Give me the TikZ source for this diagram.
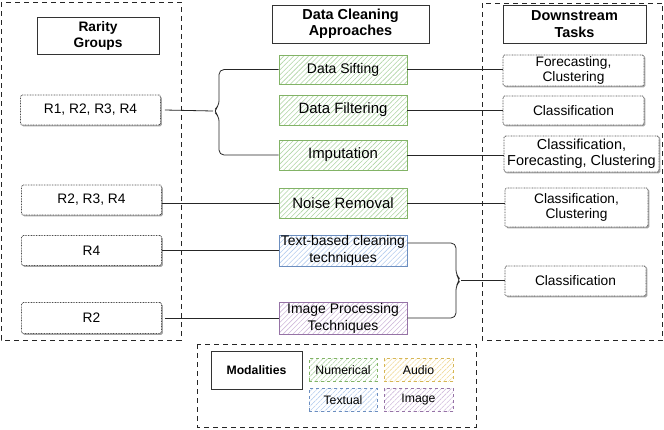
\documentclass[tikz,border=0pt]{standalone}
\usepackage{fontspec}
\setmainfont{Liberation Sans}
\usetikzlibrary{patterns.meta,shadows}
\definecolor{gbord}{HTML}{82B366}\definecolor{ghatch}{HTML}{AFD5A4}
\definecolor{bbord}{HTML}{6C8EBF}\definecolor{bhatch}{HTML}{B5CDEE}
\definecolor{pbord}{HTML}{9673A6}\definecolor{phatch}{HTML}{CFBADB}
\definecolor{ybord}{HTML}{D6B656}\definecolor{yhatch}{HTML}{F0DA9A}
\tikzset{
  container/.style={draw=black!85, dash pattern=on 5bp off 4bp, line width=0.8bp},
  titlebox/.style={draw=black!80, line width=0.9bp, font=\bfseries\fontsize{14.5}{16.5}\selectfont, align=center, inner sep=0pt},
  rbox/.style={draw=black!70, dash pattern=on 0.8bp off 0.8bp, line width=0.8bp, rounded corners=1.5bp, fill=white,
    drop shadow={shadow xshift=1.3bp, shadow yshift=-1.3bp, fill=black!35, opacity=1},
    font=\fontsize{13.8}{15.5}\selectfont, align=center, inner sep=0pt},
  hatch/.style 2 args={draw=#1, pattern={Lines[angle=45,distance=3.5bp,line width=0.6bp]}, pattern color=#2,
    line width=0.9bp, align=center, inner sep=0pt},
  appr/.style={hatch={gbord}{ghatch}, font=\fontsize{15}{17}\selectfont},
  modal/.style 2 args={hatch={#1}{#2}, dashed, font=\fontsize{12.3}{14}\selectfont},
  conn/.style={draw=black!85, line width=0.8bp},
  brace/.style={conn, rounded corners=5bp},
}
\begin{document}
\begin{tikzpicture}[x=1bp,y=-1bp]
\useasboundingbox (0,0) rectangle (664,429);
% containers
\draw[container] (1,2) rectangle (181,340);
\draw[container] (482,3) rectangle (662.5,340);
\draw[container] (197,344) rectangle (476,427);
% left column
\node[titlebox, font=\bfseries\fontsize{13.8}{16}\selectfont, minimum width=122bp, minimum height=37bp] (rg) at (98,35.5) {Rarity\\Groups};
\node[rbox, minimum width=140bp, minimum height=30bp] (r1) at (90.5,110) {R1, R2, R3, R4};
\node[rbox, minimum width=140bp, minimum height=30bp] (r234) at (91.5,200) {R2, R3, R4};
\node[rbox, minimum width=140bp, minimum height=30bp] (r4) at (91.5,250.5) {R4};
\node[rbox, minimum width=140bp, minimum height=31bp] (r2) at (91.5,318) {R2};
% middle column
\node[titlebox, minimum width=157bp, minimum height=38bp] (dca) at (350.5,24) {Data Cleaning\\Approaches};
\node[appr, font=\fontsize{14}{16}\selectfont, minimum width=128bp, minimum height=29bp] (ds) at (343,69.5) {Data Sifting};
\node[appr, minimum width=128bp, minimum height=30bp] (df) at (343,110) {Data Filtering};
\node[appr, minimum width=128bp, minimum height=30bp] (imp) at (343,155) {Imputation};
\node[appr, minimum width=128bp, minimum height=30bp] (nr) at (343,203) {Noise Removal};
\node[hatch={bbord}{bhatch}, font=\fontsize{14}{17}\selectfont, minimum width=128bp, minimum height=31bp] (tb) at (343,250.5) {Text-based cleaning\\techniques};
\node[hatch={pbord}{phatch}, font=\fontsize{14}{17}\selectfont, minimum width=128bp, minimum height=32bp] (ip) at (343,318) {Image Processing\\Techniques};
% right column
\node[titlebox, minimum width=143bp, minimum height=38bp] (dt) at (574.5,24) {Downstream\\Tasks};
\node[rbox, minimum width=141bp, minimum height=31bp] (fc) at (573.5,70.5) {Forecasting,\\Clustering};
\node[rbox, minimum width=141bp, minimum height=29bp] (c1) at (573.5,110.5) {Classification};
\node[rbox, font=\fontsize{14.5}{16.5}\selectfont, minimum width=155bp, minimum height=36bp] (cfc) at (581.5,154) {Classification,\\Forecasting, Clustering};
\node[rbox, minimum width=143bp, minimum height=39bp] (cc) at (576.5,207.5) {Classification,\\Clustering};
\node[rbox, minimum width=141bp, minimum height=30bp] (c2) at (575.5,281) {Classification};
% modalities
\node[titlebox, font=\bfseries\fontsize{12.3}{14}\selectfont, minimum width=91bp, minimum height=38bp] (mod) at (256.5,370) {Modalities};
\node[modal={gbord}{ghatch}, minimum width=68bp, minimum height=23.5bp] (num) at (343,370) {Numerical};
\node[modal={ybord}{yhatch}, minimum width=69bp, minimum height=23.5bp] (aud) at (418.5,370) {Audio};
\node[modal={bbord}{bhatch}, minimum width=68bp, minimum height=23.5bp] (tex) at (343,400) {Textual};
\node[modal={pbord}{phatch}, minimum width=69bp, minimum height=23.5bp] (img) at (418.5,400) {Image};
% connectors
\coordinate (b1) at (213,111);
\coordinate (b2) at (461,280);
\draw[conn] ([xshift=4bp]r1.east) -- (b1);
\draw[brace] (ds.west) -- (219,69.5) -- (219,106) -- (b1) -- (219,116) -- (219,155) -- (imp.west);
\draw[conn] (ds.east) -- (ds.east -| fc.west);
\draw[conn] (df.east) -- (df.east -| c1.west);
\draw[conn] (imp.east) -- (imp.east -| cfc.west);
\draw[conn] (r234.east |- nr.west) -- (nr.west);
\draw[conn] (nr.east) -- (nr.east -| cc.west);
\draw[conn] (r4.east) -- (tb.west);
\draw[conn] ([xshift=3bp]r2.east) -- (ip.west);
\draw[brace] ([yshift=7.5bp]tb.east) -- (456,243) -- (456,275) -- (b2) -- (456,285) -- (456,318) -- (ip.east);
\draw[conn] (b2) -- (b2 -| c2.west);
\end{tikzpicture}
\end{document}
